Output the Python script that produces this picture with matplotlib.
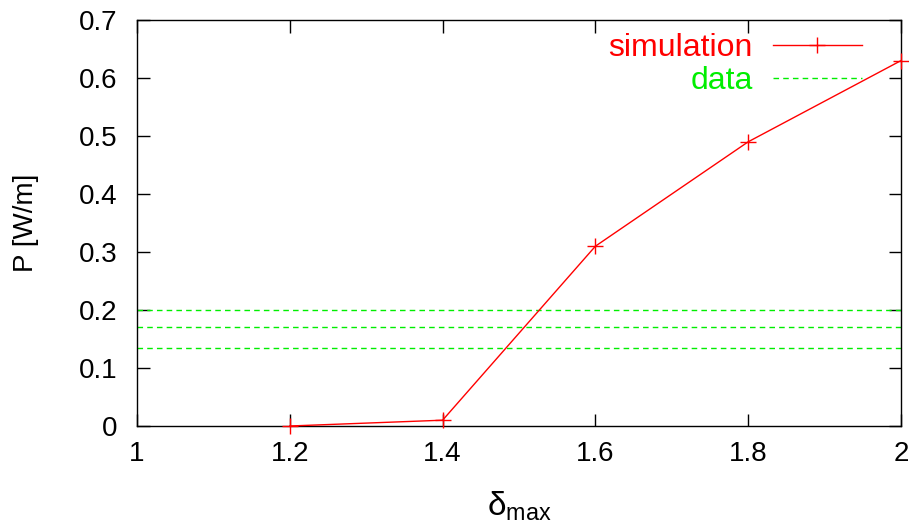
import matplotlib
matplotlib.use("Agg")
import matplotlib.pyplot as plt

plt.rcParams['font.family'] = ['Liberation Sans', 'DejaVu Sans']
plt.rcParams['mathtext.fontset'] = 'custom'
plt.rcParams['mathtext.rm'] = 'Liberation Sans'
plt.rcParams['mathtext.it'] = 'Liberation Sans'

delta_max = [1.2, 1.4, 1.6, 1.8, 2.0]
power = [0.0, 0.01, 0.31, 0.49, 0.63]
data_levels = [0.2, 0.17, 0.135]
xticks = [1, 1.2, 1.4, 1.6, 1.8, 2]
yticks = [0, 0.1, 0.2, 0.3, 0.4, 0.5, 0.6, 0.7]

W, H = 909, 527
fig = plt.figure(figsize=(W/100, H/100), dpi=100)
ax = fig.add_axes([137/W, 1-426/H, (901-137)/W, (426-20)/H])

ax.plot(delta_max, power, color='#ff0000', lw=1, marker='+', ms=11, mew=1,
        label='simulation', clip_on=False, zorder=3)
for i, lv in enumerate(data_levels):
    ax.axhline(lv, color='#00ee00', lw=1, ls=(0, (4, 3)),
               label='data' if i == 0 else None)

ax.set_xlim(1, 2)
ax.set_ylim(0, 0.7)
ax.set_xticks(xticks)
ax.set_xticklabels([f'{t:g}' for t in xticks])
ax.set_yticks(yticks)
ax.set_yticklabels([f'{t:g}' for t in yticks])
ax.tick_params(direction='in', length=9, width=1, labelsize=20, top=True, right=True)
ax.tick_params(axis='x', pad=11)
ax.tick_params(axis='y', pad=14)
for s in ax.spines.values():
    s.set_linewidth(1)
ax.set_xlabel(r'$\delta_{\mathrm{max}}$', fontsize=24, labelpad=16)
ax.set_ylabel('P [W/m]', fontsize=20, labelpad=29)

leg = ax.legend(loc='upper right', frameon=False, markerfirst=False, fontsize=23,
                labelcolor='linecolor', handlelength=2.8, handletextpad=0.62,
                borderaxespad=0, borderpad=0.4, labelspacing=0.1,
                bbox_to_anchor=(875/W, 1-20/H), bbox_transform=fig.transFigure)
for t in leg.get_texts():
    t.set_ha('right')

fig.savefig('out.png', dpi=100)
